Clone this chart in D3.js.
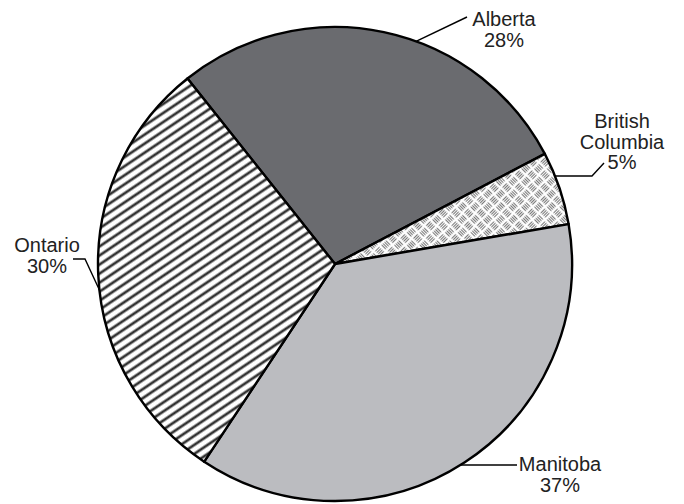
<!DOCTYPE html>
<html>
<head>
<meta charset="utf-8">
<script src="https://cdn.jsdelivr.net/npm/d3@7/dist/d3.min.js"></script>
<style>
  html, body { margin: 0; padding: 0; background: #ffffff; }
  svg { display: block; }
  text { font-family: "Liberation Sans", Arial, Helvetica, sans-serif; font-size: 20px; fill: #222; }
</style>
</head>
<body>
<svg id="chart" width="684" height="504"></svg>
<script>
// Share of total by province
const categories = ["Alberta", "British Columbia", "Manitoba", "Ontario"];
const shares = [28, 5, 37, 30];
const labelLines = [["Alberta", "28%"], ["British", "Columbia", "5%"], ["Manitoba", "37%"], ["Ontario", "30%"]];

const cx = 335, cy = 264, R = 237;
const rad = Math.PI / 180;
const start = -38.5 * rad;

const svg = d3.select("#chart");
const defs = svg.append("defs");

// diagonal stripe fill
const stripe = defs.append("pattern")
  .attr("id", "stripes")
  .attr("patternUnits", "userSpaceOnUse")
  .attr("width", 7.5).attr("height", 7.5)
  .attr("patternTransform", "rotate(-34)");
stripe.append("rect").attr("width", 7.5).attr("height", 7.5).attr("fill", "#fff");
stripe.append("line").attr("x1", -1).attr("y1", 3.75).attr("x2", 8.5).attr("y2", 3.75)
  .attr("stroke", "#333").attr("stroke-width", 2.7);

// checker-plate fill: alternating groups of short dashes
const plate = defs.append("pattern")
  .attr("id", "plate")
  .attr("patternUnits", "userSpaceOnUse")
  .attr("width", 18).attr("height", 18)
  .attr("patternTransform", "rotate(45)");
plate.append("rect").attr("width", 18).attr("height", 18).attr("fill", "#fff");
function group(ox, oy, horizontal) {
  for (let i = 0; i < 4; i++) {
    const o = 1.5 + i * 2;
    const ln = plate.append("line").attr("stroke", "#7a7a7a").attr("stroke-width", 1.1);
    if (horizontal) {
      ln.attr("x1", ox + 1.5).attr("x2", ox + 7.5).attr("y1", oy + o).attr("y2", oy + o);
    } else {
      ln.attr("y1", oy + 1.5).attr("y2", oy + 7.5).attr("x1", ox + o).attr("x2", ox + o);
    }
  }
}
group(0, 0, true); group(9, 9, true); group(9, 0, false); group(0, 9, false);

const fills = d3.scaleOrdinal()
  .domain(categories)
  .range(["#6a6b6f", "url(#plate)", "#bbbcc0", "url(#stripes)"]);

const pie = d3.pie().sort(null).value(d => d.v)
  .startAngle(start).endAngle(start + 2 * Math.PI);
const data = pie(categories.map((c, i) => ({ c, v: shares[i], lines: labelLines[i] })));
const arc = d3.arc().innerRadius(0).outerRadius(R);

const g = svg.append("g").attr("transform", `translate(${cx},${cy})`);
g.selectAll("path.slice").data(data).join("path")
  .attr("class", "slice")
  .attr("d", arc)
  .attr("fill", d => fills(d.data.c))
  .attr("stroke", "#000")
  .attr("stroke-width", 2.4)
  .attr("stroke-linejoin", "round");

// leader start angle on the rim (degrees), leader bends, text anchor
const layout = {
  "Alberta":          { at: 20,    pts: [[467, 17]],             tx: 504, ty: 26 },
  "British Columbia": { at: 68.2,  pts: [[592, 176], [604, 163]], tx: 622, ty: 128 },
  "Manitoba":         { at: 148,   pts: [[517, 465]],             tx: 560, ty: 471 },
  "Ontario":          { at: 263.7, pts: [[85, 259], [73, 259]],   tx: 47,  ty: 252 }
};

data.forEach(d => {
  const L = layout[d.data.c];
  const a = L.at * rad;
  let p0 = [cx + R * Math.sin(a), cy - R * Math.cos(a)];
  if (d.data.c === "Manitoba") p0 = [cx + Math.sqrt(R * R - (465 - cy) ** 2), 465];
  svg.append("polyline")
    .attr("points", [p0, ...L.pts].map(p => p.join(",")).join(" "))
    .attr("fill", "none").attr("stroke", "#000").attr("stroke-width", 1.4);
  const t = svg.append("text").attr("text-anchor", "middle");
  d.data.lines.forEach((s, i) => {
    t.append("tspan").attr("x", L.tx).attr("y", L.ty + i * 20.5).text(s);
  });
});
</script>
</body>
</html>
